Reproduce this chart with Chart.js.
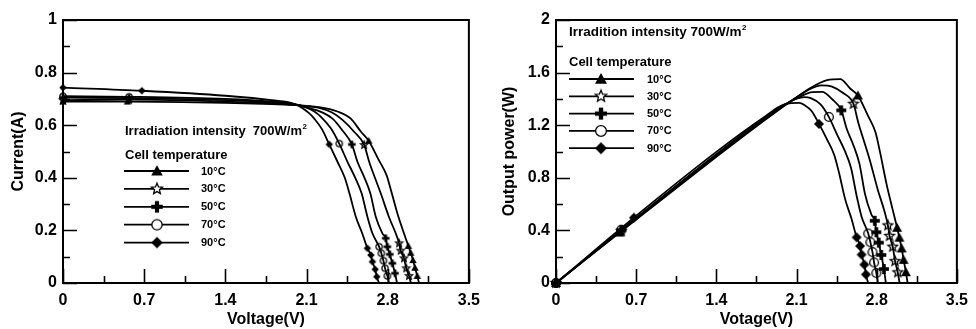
<!DOCTYPE html>
<html lang="en">
<head>
<meta charset="UTF-8">
<title>Cell I-V and P-V curves at different cell temperatures</title>
<script src="https://cdn.jsdelivr.net/npm/chart.js@4.4.1/dist/chart.umd.min.js"></script>
<style>
  body { margin: 0; background: #fff; }
  .wrap { display: flex; width: 976px; height: 329px; }
  canvas { display: block; }
</style>
</head>
<body>
<div class="wrap">
  <canvas id="ivChart" width="488" height="329"></canvas>
  <canvas id="pvChart" width="488" height="329"></canvas>
</div>
<script>
// ---- data ----
const tempLabels = ['10°C', '30°C', '50°C', '70°C', '90°C'];

const volt10 = [0, 0.556, 1.4, 1.8, 2.0, 2.1, 2.2, 2.367, 2.482, 2.568, 2.636, 2.72, 2.79, 2.83, 2.885, 2.94, 2.978, 2.998, 3.018, 3.035, 3.055, 3.07];
const amp10  = [0.69, 0.69, 0.685, 0.68, 0.676, 0.673, 0.669, 0.652, 0.625, 0.576, 0.541, 0.47, 0.41, 0.35, 0.262, 0.189, 0.141, 0.115, 0.087, 0.058, 0.027, 0];
const watt10 = [0, 0.384, 0.959, 1.224, 1.352, 1.413, 1.472, 1.543, 1.551, 1.479, 1.426, 1.278, 1.144, 0.991, 0.756, 0.556, 0.42, 0.345, 0.263, 0.176, 0.082, 0];
const marks10 = [0, 1, 10, 16, 17, 18, 19, 20];

const volt30 = [0, 0.57, 1.4, 1.8, 2.0, 2.1, 2.2, 2.32, 2.41, 2.51, 2.597, 2.64, 2.69, 2.74, 2.81, 2.869, 2.898, 2.912, 2.94, 2.96, 2.984, 3.0];
const amp30  = [0.695, 0.697, 0.69, 0.683, 0.677, 0.672, 0.667, 0.648, 0.62, 0.575, 0.525, 0.461, 0.4, 0.341, 0.252, 0.189, 0.151, 0.123, 0.094, 0.056, 0.027, 0];
const watt30 = [0, 0.397, 0.966, 1.229, 1.354, 1.411, 1.467, 1.503, 1.494, 1.443, 1.363, 1.217, 1.076, 0.934, 0.708, 0.542, 0.438, 0.358, 0.276, 0.166, 0.081, 0];
const marks30 = [0, 1, 10, 16, 17, 18, 19, 20];

const volt50 = [0, 0.57, 1.4, 1.8, 2.0, 2.1, 2.24, 2.324, 2.41, 2.491, 2.539, 2.6, 2.65, 2.697, 2.754, 2.783, 2.797, 2.818, 2.84, 2.863, 2.88];
const amp50  = [0.705, 0.703, 0.695, 0.686, 0.678, 0.668, 0.648, 0.625, 0.58, 0.527, 0.461, 0.4, 0.341, 0.252, 0.189, 0.17, 0.138, 0.109, 0.075, 0.037, 0];
const watt50 = [0, 0.401, 0.973, 1.235, 1.356, 1.403, 1.452, 1.453, 1.398, 1.313, 1.171, 1.04, 0.904, 0.68, 0.52, 0.473, 0.386, 0.307, 0.213, 0.106, 0];
const marks50 = [0, 1, 9, 15, 16, 17, 18, 19];

const volt70 = [0, 0.57, 1.4, 1.8, 2.0, 2.1, 2.167, 2.224, 2.31, 2.382, 2.453, 2.52, 2.575, 2.625, 2.668, 2.726, 2.745, 2.763, 2.777, 2.797, 2.81];
const amp70  = [0.71, 0.708, 0.7, 0.69, 0.68, 0.667, 0.652, 0.632, 0.588, 0.53, 0.461, 0.4, 0.341, 0.252, 0.189, 0.138, 0.113, 0.085, 0.056, 0.027, 0];
const watt70 = [0, 0.404, 0.98, 1.242, 1.36, 1.401, 1.413, 1.406, 1.358, 1.263, 1.131, 1.008, 0.878, 0.662, 0.504, 0.376, 0.31, 0.235, 0.156, 0.076, 0];
const marks70 = [0, 1, 9, 15, 16, 17, 18, 19];

const volt90 = [0, 0.68, 1.4, 1.8, 2.0, 2.124, 2.167, 2.233, 2.296, 2.367, 2.43, 2.47, 2.525, 2.58, 2.625, 2.655, 2.668, 2.692, 2.706, 2.725];
const amp90  = [0.743, 0.731, 0.712, 0.695, 0.68, 0.645, 0.625, 0.585, 0.527, 0.461, 0.4, 0.341, 0.252, 0.189, 0.132, 0.106, 0.081, 0.052, 0.024, 0];
const watt90 = [0, 0.497, 0.997, 1.251, 1.36, 1.37, 1.354, 1.306, 1.21, 1.091, 0.972, 0.842, 0.636, 0.488, 0.347, 0.281, 0.216, 0.14, 0.065, 0];
const marks90 = [0, 1, 8, 14, 15, 16, 17, 18];

const voltTicks = [0, 0.35, 0.7, 1.05, 1.4, 1.75, 2.1, 2.45, 2.8, 3.15, 3.5];
const voltTickLabels = ['0', '', '0.7', '', '1.4', '', '2.1', '', '2.8', '', '3.5'];
const ampTicks = [0, 0.1, 0.2, 0.3, 0.4, 0.5, 0.6, 0.7, 0.8, 0.9, 1];
const ampTickLabels = ['0', '', '0.2', '', '0.4', '', '0.6', '', '0.8', '', '1'];
const wattTicks = [0, 0.2, 0.4, 0.6, 0.8, 1.0, 1.2, 1.4, 1.6, 1.8, 2];
const wattTickLabels = ['0', '', '0.4', '', '0.8', '', '1.2', '', '1.6', '', '2'];

// ---- drawing setup ----
const family = '"Liberation Sans", Arial, sans-serif';
Chart.defaults.font.family = family;
Chart.defaults.font.weight = 'bold';
Chart.defaults.color = '#000';

const markTypes = ['triangle', 'star', 'plus', 'circle', 'diamond'];

function makeMark(type, s, hollowFill) {
  const n = Math.ceil(s + 4);
  const c = document.createElement('canvas');
  c.width = n; c.height = n;
  const g = c.getContext('2d');
  const m = n / 2, r = s / 2;
  g.fillStyle = '#000';
  g.strokeStyle = '#000';
  g.lineWidth = 1.3;
  g.beginPath();
  if (type === 'triangle') {
    g.moveTo(m, m - r);
    g.lineTo(m + r, m + r * 0.8);
    g.lineTo(m - r, m + r * 0.8);
    g.closePath();
    g.fill();
  } else if (type === 'star') {
    for (let k = 0; k < 10; k++) {
      const rr = k % 2 ? r * 0.45 : r;
      const a = -Math.PI / 2 + k * Math.PI / 5;
      const px = m + rr * Math.cos(a), py = m + rr * Math.sin(a);
      if (k === 0) g.moveTo(px, py); else g.lineTo(px, py);
    }
    g.closePath();
    if (hollowFill) { g.fillStyle = '#fff'; g.fill(); }
    g.stroke();
  } else if (type === 'plus') {
    const w = s * 0.36;
    g.fillRect(m - w / 2, m - r, w, s);
    g.fillRect(m - r, m - w / 2, s, w);
  } else if (type === 'circle') {
    g.arc(m, m, r - 0.6, 0, Math.PI * 2);
    if (hollowFill) { g.fillStyle = '#fff'; g.fill(); }
    g.stroke();
  } else {
    g.moveTo(m, m - r);
    g.lineTo(m + r, m);
    g.lineTo(m, m + r);
    g.lineTo(m - r, m);
    g.closePath();
    g.fill();
  }
  return c;
}

const ivMarks = markTypes.map(t => makeMark(t, 7.5, false));
const pvMarks = markTypes.map(t => makeMark(t, 10, false));
const ivLegendMarks = markTypes.map(t => makeMark(t, 11.5, true));
const pvLegendMarks = markTypes.map(t => makeMark(t, 12, true));

function curve(xs, ys, marks, img) {
  return {
    data: xs.map((v, i) => ({ x: v, y: ys[i] })),
    borderColor: '#000',
    backgroundColor: '#000',
    borderWidth: 1.8,
    fill: false,
    cubicInterpolationMode: 'monotone',
    pointStyle: img,
    pointRadius: ctx => marks.includes(ctx.dataIndex) ? 4 : 0,
    pointHoverRadius: 0,
    clip: false
  };
}

function scaleX(title) {
  return {
    type: 'linear', min: 0, max: 3.5,
    afterBuildTicks: s => { s.ticks = voltTicks.map(v => ({ value: v })); },
    afterFit: s => { s.height = 46; },
    ticks: {
      autoSkip: false, maxRotation: 0, padding: 8,
      font: { size: 16, weight: 'bold', family },
      callback: (v, i) => voltTickLabels[i]
    },
    grid: { display: false, drawTicks: false },
    border: { display: false },
    title: { display: true, text: title, font: { size: 16, weight: 'bold', family }, padding: { top: 0, bottom: 0 } }
  };
}

function scaleY(max, tickVals, tickLabels, title, width, titlePad) {
  return {
    type: 'linear', min: 0, max: max,
    afterBuildTicks: s => { s.ticks = tickVals.map(v => ({ value: v })); },
    afterFit: s => { s.width = width; },
    ticks: {
      autoSkip: false, padding: 6,
      font: { size: 16, weight: 'bold', family },
      callback: (v, i) => tickLabels[i]
    },
    grid: { display: false, drawTicks: false },
    border: { display: false },
    title: { display: true, text: title, font: { size: 16, weight: 'bold', family }, padding: { top: titlePad, bottom: 0 } }
  };
}

// box round the plot area with inward ticks
const frame = {
  id: 'frame',
  beforeDatasetsDraw(chart) {
    const { ctx, chartArea: a, scales: { x, y } } = chart;
    ctx.save();
    ctx.strokeStyle = '#000';
    ctx.lineWidth = 2;
    ctx.strokeRect(a.left, a.top, a.right - a.left, a.bottom - a.top);
    ctx.lineWidth = 1.6;
    ctx.beginPath();
    x.ticks.forEach(t => {
      const px = Math.round(x.getPixelForValue(t.value)) + 0.5;
      ctx.moveTo(px, a.bottom);
      ctx.lineTo(px, a.bottom - (t.label ? 14 : 7));
    });
    y.ticks.forEach(t => {
      const py = Math.round(y.getPixelForValue(t.value)) + 0.5;
      ctx.moveTo(a.left, py);
      ctx.lineTo(a.left + (t.label ? 14 : 7), py);
    });
    ctx.stroke();
    ctx.restore();
  }
};

function tempLegend(cfg) {
  return {
    id: 'tempLegend',
    afterDraw(chart) {
      const ctx = chart.ctx;
      ctx.save();
      ctx.fillStyle = '#000';
      ctx.strokeStyle = '#000';
      ctx.textBaseline = 'alphabetic';
      ctx.font = `bold ${cfg.headSize}px ${family}`;
      ctx.fillText(cfg.head, cfg.x, cfg.headY);
      const w = ctx.measureText(cfg.head).width;
      ctx.font = `bold 8px ${family}`;
      ctx.fillText('2', cfg.x + w + 0.5, cfg.headY - 6);
      ctx.font = `bold 13px ${family}`;
      ctx.fillText('Cell temperature', cfg.x, cfg.subY);
      ctx.lineWidth = 1.8;
      ctx.font = `bold 11px ${family}`;
      ctx.textBaseline = 'middle';
      tempLabels.forEach((lab, k) => {
        const y = cfg.rowY + k * cfg.rowStep;
        ctx.beginPath();
        ctx.moveTo(cfg.x0, y);
        ctx.lineTo(cfg.x1, y);
        ctx.stroke();
        const img = cfg.marks[k];
        ctx.drawImage(img, cfg.mx - img.width / 2, y - img.height / 2);
        ctx.fillText(lab, cfg.tx, y + 0.5);
      });
      ctx.restore();
    }
  };
}

const baseOptions = (xTitle, yScale, right) => ({
  responsive: false,
  animation: false,
  events: [],
  layout: { padding: { top: 20, right: right, left: 0, bottom: 0 } },
  plugins: { legend: { display: false }, tooltip: { enabled: false } },
  scales: { x: scaleX(xTitle), y: yScale }
});

new Chart(document.getElementById('ivChart'), {
  type: 'line',
  data: {
    datasets: [
      curve(volt10, amp10, marks10, ivMarks[0]),
      curve(volt30, amp30, marks30, ivMarks[1]),
      curve(volt50, amp50, marks50, ivMarks[2]),
      curve(volt70, amp70, marks70, ivMarks[3]),
      curve(volt90, amp90, marks90, ivMarks[4])
    ]
  },
  options: baseOptions('Voltage(V)', scaleY(1, ampTicks, ampTickLabels, 'Current(A)', 63, 9), 18),
  plugins: [frame, tempLegend({
    head: 'Irradiation intensity  700W/m', headSize: 13, x: 125, headY: 135, subY: 159,
    rowY: 171, rowStep: 17.9, x0: 124, x1: 189, mx: 157, tx: 201, marks: ivLegendMarks
  })]
});

new Chart(document.getElementById('pvChart'), {
  type: 'line',
  data: {
    datasets: [
      curve(volt10, watt10, marks10, pvMarks[0]),
      curve(volt30, watt30, marks30, pvMarks[1]),
      curve(volt50, watt50, marks50, pvMarks[2]),
      curve(volt70, watt70, marks70, pvMarks[3]),
      curve(volt90, watt90, marks90, pvMarks[4])
    ]
  },
  options: baseOptions('Votage(V)', scaleY(2, wattTicks, wattTickLabels, 'Output power(W)', 68, 12), 13),
  plugins: [frame, tempLegend({
    head: 'Irradition intensity 700W/m', headSize: 13.5, x: 81, headY: 36, subY: 66,
    rowY: 79, rowStep: 17.3, x0: 81, x1: 146, mx: 113, tx: 159, marks: pvLegendMarks
  })]
});
</script>
</body>
</html>
